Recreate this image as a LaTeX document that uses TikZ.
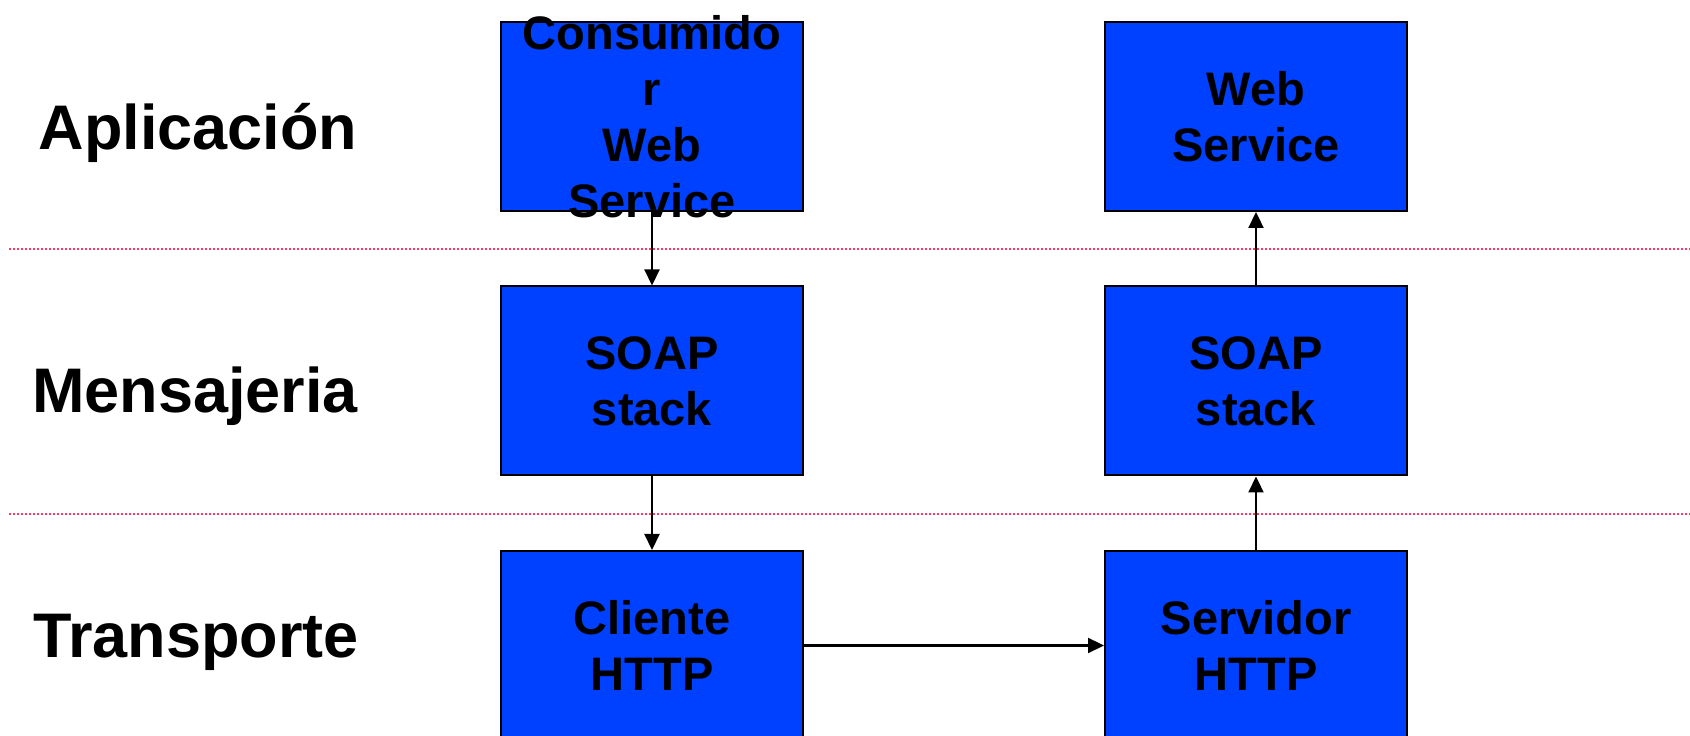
\documentclass[tikz,border=0pt]{standalone}
\usepackage{fontspec}
\setmainfont{Liberation Sans}
\usetikzlibrary{arrows.meta}
\usepackage{xcolor}
\definecolor{azul}{RGB}{0,64,255}
\definecolor{rosa}{RGB}{255,51,102}

\begin{document}
\begin{tikzpicture}[x=1pt, y=1pt,
  capa/.style={draw=black, line width=2pt, fill=azul, minimum width=302pt, minimum height=189pt, inner sep=0pt},
  rotulo/.style={font=\fontsize{47}{56}\selectfont\bfseries, align=center},
  nivel/.style={font=\fontsize{63}{74}\selectfont\bfseries, anchor=base},
  flecha/.style={-{Triangle[length=16pt, width=15pt]}, line width=2.2pt},
  corte/.style={rosa, line width=2pt, dash pattern=on 2pt off 2pt}]
\clip (0,0) rectangle (1690,736);
% separadores entre niveles
\draw[corte] (9,487) -- (1690,487);
\draw[corte] (9,222) -- (1690,222);
% nombres de los niveles
\node[nivel] (aplic) at (198,586) {Aplicación};
\node[nivel] (mens) at (195,323) {Mensajeria};
\node[nivel] (transp) at (196,78) {Transporte};
% lado cliente
\node[capa, label={[rotulo]center:Consumido\\r\\Web\\Service}] (consumidor) at (652,619.5) {};
\node[capa, label={[rotulo]center:SOAP\\stack}] (soapc) at (652,355) {};
\node[capa, label={[rotulo]center:Cliente\\HTTP}] (cliente) at (652,90.5) {};
% lado servidor
\node[capa, label={[rotulo]center:Web\\Service}] (ws) at (1256,619.5) {};
\node[capa, label={[rotulo]center:SOAP\\stack}] (soaps) at (1256,355) {};
\node[capa, label={[rotulo]center:Servidor\\HTTP}] (servidor) at (1256,90.5) {};
% flujo del mensaje
\draw[flecha] (consumidor) -- (soapc);
\draw[flecha] (soapc) -- (cliente);
\draw[flecha] (cliente) -- (servidor);
\draw[flecha] (servidor) -- (soaps);
\draw[flecha] (soaps) -- (ws);
\end{tikzpicture}
\end{document}
